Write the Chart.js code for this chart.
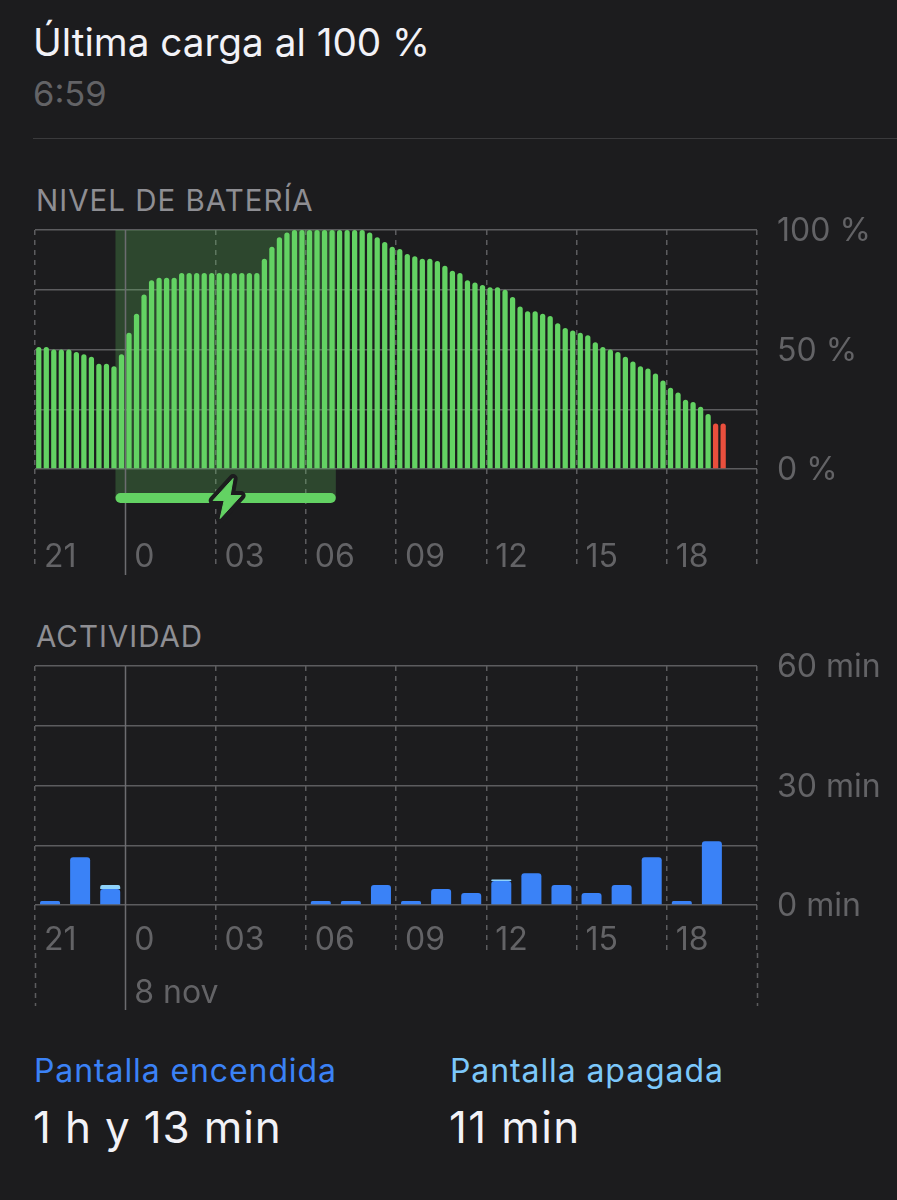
<!DOCTYPE html>
<html lang="es"><head><meta charset="utf-8">
<script src="https://cdn.jsdelivr.net/npm/chart.js@4"></script>
<style>
html,body{margin:0;padding:0;background:#1c1c1e;width:897px;height:1200px;overflow:hidden}
body{position:relative;font-family:Inter,"Noto Sans",sans-serif}
.t{position:absolute;white-space:nowrap;line-height:1}
canvas{position:absolute;left:0}
#rule{position:absolute;left:33px;right:0;top:138px;height:1px;background:#3a3a3c}
</style></head><body>
<div class="t" style="left:33px;top:23px;font-size:38.7px;color:#f2f2f7">Última carga al 100 %</div>
<div class="t" style="left:33px;top:77px;font-size:34.5px;color:#636366">6:59</div>
<div id="rule"></div>
<div class="t" style="left:36px;top:186px;font-size:29.5px;letter-spacing:1px;color:#8e8e93">NIVEL DE BATERÍA</div>
<div class="t" style="left:36px;top:622px;font-size:29.5px;letter-spacing:1px;color:#8e8e93">ACTIVIDAD</div>
<canvas id="battery" width="897" height="590" style="top:0"></canvas>
<canvas id="activity" width="897" height="430" style="top:600px"></canvas>
<div class="t" style="left:34px;top:1055px;font-size:32px;letter-spacing:.9px;color:#3b82f6">Pantalla encendida</div>
<div class="t" style="left:450px;top:1055px;font-size:32px;letter-spacing:.9px;color:#7cc8fb">Pantalla apagada</div>
<div class="t" style="left:33px;top:1105px;font-size:44px;letter-spacing:.85px;color:#f2f2f7">1 h y 13 min</div>
<div class="t" style="left:449px;top:1105px;font-size:44px;letter-spacing:1.4px;color:#f2f2f7">11 min</div>
<script>
const batteryLevels = [51,51,50,50,50,49,48,47,44,44,43,48,57,65,73,79,80,80,80,
  82,82,82,82,82,82,82,82,82,82,82,88,93,97,99,
  100,100,100,100,100,100,100,100,100,100,99,97,95,93,
  92,90,89,88,88,87,85,83,82,79,78,77,76,76,75,72,68,66,66,65,64,61,59,58,57,56,53,51,50,49,47,45,43,42,40,37,34,32,29,28,26,23,19,19];
const hourLabels = ['21','0','03','06','09','12','15','18',''];
const dateLabel = '8 nov';
const screenOn  = [1,12,4,0,0,0,0,0,0,1,1,5,1,4,3,6,8,5,3,5,12,1,16,0];
const screenOff = [0,0,1,0,0,0,0,0,0,0,0,0,0,0,0,0.4,0,0,0,0,0,0,0,0];
const batteryTicks = {100:'100 %',50:'50 %',0:'0 %'};
const activityTicks = {60:'60 min',30:'30 min',0:'0 min'};
const chargeSlots = [10.7, 40];       // charging interval, in 15-minute slots
const LOW = 20;

const GREEN='#63d263', RED='#ea4f3d', GRID='#5c5c5f', LABEL='#636366', SOLID='#6c6c70';
const FONT='Inter, "Noto Sans", sans-serif';

function vline(ctx,x,y0,y1,color,dash,w){
  ctx.save();ctx.strokeStyle=color;ctx.lineWidth=w||1.5;ctx.setLineDash(dash||[]);
  ctx.beginPath();ctx.moveTo(x,y0);ctx.lineTo(x,y1);ctx.stroke();ctx.restore();
}
const px=v=>Math.round(v)+0.5;

function xAxis(max,step,tickLen,padding,lineH,height){
  return {
    type:'linear',min:0,max,stacked:true,offset:false,
    afterBuildTicks:s=>{s.ticks=[];for(let v=0;v<=max;v+=step)s.ticks.push({value:v});},
    afterFit:s=>{s.height=height;},
    border:{display:false,dash:[5,5]},
    grid:{offset:false,color:c=>c.tick&&c.tick.value===step?'transparent':GRID,lineWidth:1.5,tickLength:tickLen,
      tickColor:c=>c.tick&&c.tick.value===step?'transparent':GRID,tickBorderDash:[5,5],tickWidth:1.5},
    ticks:{autoSkip:false,maxRotation:0,minRotation:0,align:'start',labelOffset:9,padding,color:LABEL,
      font:{family:FONT,size:32,lineHeight:lineH},
      callback:v=>{
        const l=hourLabels[v/step];
        return (max===24&&v===step)?[l,dateLabel]:l;
      }}
  };
}
function yAxis(max,step,labels){
  return {
    position:'right',min:0,max,
    afterBuildTicks:s=>{s.ticks=[];for(let v=0;v<=max;v+=step)s.ticks.push({value:v});},
    afterFit:s=>{s.width=140;},
    border:{display:false},
    grid:{color:GRID,lineWidth:1.5,drawTicks:false},
    ticks:{autoSkip:false,padding:20,labelOffset:1.5,color:LABEL,font:{family:FONT,size:32},callback:v=>labels[v]||''}
  };
}

const chargePlugin={
  id:'charge',
  beforeDatasetsDraw(chart){
    const {ctx,scales:{x,y},chartArea:a}=chart;
    const x0=x.getPixelForValue(chargeSlots[0]),x1=x.getPixelForValue(chargeSlots[1]);
    const barY=498;
    ctx.save();
    ctx.fillStyle='rgba(99,210,99,0.24)';
    ctx.fillRect(x0,a.top,x1-x0,barY-a.top);
    ctx.restore();
    vline(ctx,px(x.getPixelForValue(12)),a.top,575,SOLID);
  },
  afterDatasetsDraw(chart){
    const {ctx,scales:{x}}=chart;
    const x0=x.getPixelForValue(chargeSlots[0]),x1=x.getPixelForValue(chargeSlots[1]);
    const barY=498;
    ctx.save();
    ctx.fillStyle=GREEN;
    ctx.beginPath();ctx.roundRect(x0,barY-5,x1-x0,10,5);ctx.fill();
    const cx=(x0+x1)/2+1.5, cy=barY+0.5;
    const pts=[[6,-20],[-14,2],[-3,2],[-7,20],[14,-3],[3,-3]];
    ctx.beginPath();
    pts.forEach((p,i)=>i?ctx.lineTo(cx+p[0],cy+p[1]):ctx.moveTo(cx+p[0],cy+p[1]));
    ctx.closePath();
    ctx.lineJoin='round';ctx.lineWidth=9;ctx.strokeStyle='#1c1c1e';ctx.stroke();
    ctx.lineWidth=1;ctx.strokeStyle=GREEN;ctx.stroke();
    ctx.fillStyle=GREEN;ctx.fill();
    ctx.restore();
  }
};
const guidePlugin={
  id:'guides',
  beforeDatasetsDraw(chart){
    const {ctx,scales:{x},chartArea:a}=chart;
    const base=a.bottom+48, end=406;
    [0,24].forEach(v=>vline(ctx,px(x.getPixelForValue(v)),base,end,GRID,[5,5]));
    vline(ctx,px(x.getPixelForValue(3)),a.top,410,SOLID);
  }
};

new Chart(document.getElementById('battery'),{
  type:'bar',
  data:{datasets:[{
    data:batteryLevels.map((v,i)=>({x:i+0.5,y:v})),
    backgroundColor:c=>c.raw&&c.raw.y<=LOW?RED:GREEN,
    barPercentage:0.70,categoryPercentage:1,
    borderRadius:{topLeft:3,topRight:3,bottomLeft:0,bottomRight:0},borderSkipped:false
  }]},
  options:{responsive:false,animation:false,
    layout:{padding:{left:35,top:230,right:0,bottom:0}},
    plugins:{legend:{display:false},tooltip:{enabled:false}},
    scales:{x:xAxis(96,12,100,-31,1.2,121),y:yAxis(100,25,batteryTicks)}},
  plugins:[chargePlugin]
});

new Chart(document.getElementById('activity'),{
  type:'bar',
  data:{datasets:[
    {label:'Pantalla encendida',data:screenOn.map((v,i)=>({x:i+0.5,y:v})),backgroundColor:'#3a82f7',
     barPercentage:0.665,categoryPercentage:1,borderRadius:{topLeft:3,topRight:3,bottomLeft:0,bottomRight:0},borderSkipped:false},
    {label:'Pantalla apagada',data:screenOff.map((v,i)=>({x:i+0.5,y:v})),backgroundColor:'#8fd3fb',
     barPercentage:0.665,categoryPercentage:1,borderRadius:{topLeft:3,topRight:3,bottomLeft:0,bottomRight:0},borderSkipped:false}
  ]},
  options:{responsive:false,animation:false,
    layout:{padding:{left:35,top:66,right:0,bottom:0}},
    plugins:{legend:{display:false},tooltip:{enabled:false}},
    scales:{x:xAxis(24,3,48,-39.5,1.656,125),y:{...yAxis(60,15,activityTicks),stacked:true}}},
  plugins:[guidePlugin]
});
</script>
</body></html>
